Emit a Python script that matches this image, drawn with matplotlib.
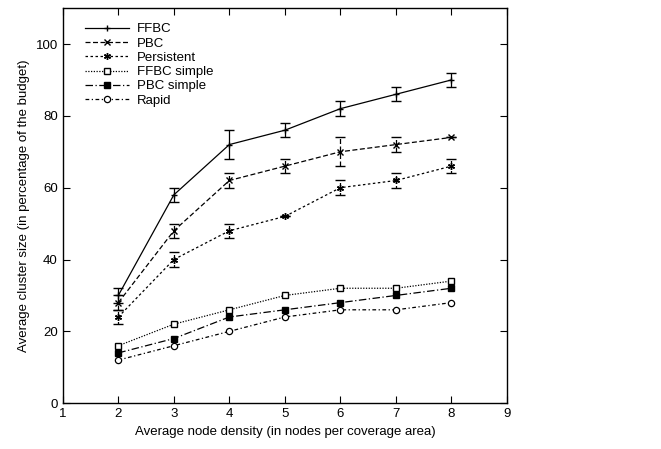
import matplotlib
matplotlib.use("Agg")
import matplotlib.pyplot as plt

plt.rcParams['font.family'] = ['Liberation Sans', 'DejaVu Sans']

density = [2, 3, 4, 5, 6, 7, 8]

ffbc = [30, 58, 72, 76, 82, 86, 90]
ffbc_err = [2, 2, 4, 2, 2, 2, 2]
pbc = [28, 48, 62, 66, 70, 72, 74]
pbc_err = [2, 2, 2, 2, 4, 2, 0]
persistent = [24, 40, 48, 52, 60, 62, 66]
persistent_err = [2, 2, 2, 0, 2, 2, 2]
ffbc_simple = [16, 22, 26, 30, 32, 32, 34]
pbc_simple = [14, 18, 24, 26, 28, 30, 32]
rapid = [12, 16, 20, 24, 26, 26, 28]

labels = ['FFBC', 'PBC', 'Persistent', 'FFBC simple', 'PBC simple', 'Rapid']

fig = plt.figure(figsize=(6.61, 4.49), dpi=100)
ax = fig.add_axes([0.095, 0.102, 0.672, 0.88])

handles = []
# series with error bars
for y, err, ls, mk in [
        (ffbc, ffbc_err, '-', '+'),
        (pbc, pbc_err, (0, (4, 2)), 'x'),
        (persistent, persistent_err, (0, (2, 2)), (6, 2, 0))]:
    eb = ax.errorbar(density, y, yerr=err, color='black', lw=0.9, ls=ls,
                     marker=mk, ms=5, mew=1, capsize=3.5, elinewidth=0.9)
    eb[-1][0].set_linestyle(ls)
    handles.append(eb[0])

h, = ax.plot(density, ffbc_simple, color='black', lw=0.9, ls=(0, (1, 1.2)),
             marker='s', ms=4.5, mfc='white', mew=1)
handles.append(h)
h, = ax.plot(density, pbc_simple, color='black', lw=0.9, ls=(0, (6, 2, 1, 2)),
             marker='s', ms=4.5, mfc='black')
handles.append(h)
h, = ax.plot(density, rapid, color='black', lw=0.9, ls=(0, (3, 2, 1, 2)),
             marker='o', ms=4.5, mfc='white', mew=0.9)
handles.append(h)

ax.set_xlim(1, 9)
ax.set_ylim(0, 110)
ax.set_xticks(range(1, 10))
ax.set_yticks(range(0, 101, 20))
ax.tick_params(direction='in', top=True, right=True, labelsize=9.5, length=5)
for s in ax.spines.values():
    s.set_linewidth(1)

ax.set_xlabel('Average node density (in nodes per coverage area)', fontsize=9.5)
ax.set_ylabel('Average cluster size (in percentage of the budget)', fontsize=9.5)

ax.legend(handles, labels, loc='upper left', bbox_to_anchor=(0.03, 0.985),
          frameon=False, fontsize=9.5, handlelength=3.3, labelspacing=0.15,
          handletextpad=0.6, borderaxespad=0.3)

fig.savefig('out.png', dpi=100)
